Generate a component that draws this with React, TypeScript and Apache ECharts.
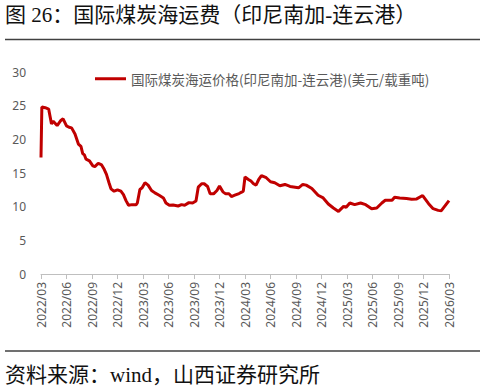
import React, { useEffect, useRef } from "react";
import * as echarts from "echarts";

const TITLE = "图 26：国际煤炭海运费（印尼南加-连云港）";
const SOURCE = "资料来源：wind，山西证券研究所";
const SERIES_NAME = "国际煤炭海运价格(印尼南加-连云港)(美元/载重吨)";

const dates: string[] = [
  "2022-03-01", "2022-03-04", "2022-03-16", "2022-03-28", "2022-04-08", "2022-04-14", "2022-04-28",
  "2022-05-11", "2022-05-19", "2022-06-01", "2022-06-10", "2022-06-19", "2022-07-01", "2022-07-13",
  "2022-07-22", "2022-07-28", "2022-08-04", "2022-08-10", "2022-08-22", "2022-09-04", "2022-09-11",
  "2022-09-23", "2022-10-05", "2022-10-14", "2022-10-22", "2022-11-01", "2022-11-08", "2022-11-19",
  "2022-12-01", "2022-12-13", "2022-12-22", "2023-01-01", "2023-01-10", "2023-01-22", "2023-02-07",
  "2023-02-11", "2023-02-20", "2023-02-28", "2023-03-08", "2023-03-19", "2023-04-01", "2023-04-13",
  "2023-04-28", "2023-05-13", "2023-05-22", "2023-06-04", "2023-06-17", "2023-07-05", "2023-07-17",
  "2023-07-28", "2023-08-13", "2023-08-26", "2023-09-08", "2023-09-16", "2023-09-28", "2023-10-07",
  "2023-10-19", "2023-10-28", "2023-11-10", "2023-11-22", "2023-12-01", "2023-12-13", "2023-12-23",
  "2024-01-05", "2024-01-13", "2024-01-25", "2024-02-10", "2024-02-19", "2024-02-25", "2024-03-01",
  "2024-03-13", "2024-03-22", "2024-04-01", "2024-04-10", "2024-04-19", "2024-04-29", "2024-05-16",
  "2024-06-01", "2024-06-16", "2024-07-04", "2024-07-22", "2024-08-10", "2024-09-10", "2024-09-25",
  "2024-10-07", "2024-10-27", "2024-11-19", "2024-12-07", "2024-12-25", "2025-01-13", "2025-02-01",
  "2025-02-19", "2025-02-28", "2025-03-11", "2025-03-28", "2025-04-19", "2025-05-07", "2025-05-28",
  "2025-06-16", "2025-07-04", "2025-07-16", "2025-08-10", "2025-08-19", "2025-09-07", "2025-10-01",
  "2025-10-19", "2025-11-07", "2025-11-28", "2025-12-19", "2026-01-05", "2026-01-23", "2026-02-04",
  "2026-03-01",
];

const values: number[] = [
  17.3, 24.8, 24.7, 24.5, 22.3, 22.7, 22.05,
  22.8, 23.05, 22.0, 21.8, 21.7, 20.8, 19.3,
  18.95, 17.9, 17.7, 17.05, 16.8, 16.05, 15.95,
  16.45, 16.2, 15.55, 14.8, 13.55, 12.65, 12.3,
  12.5, 12.3, 11.8, 10.9, 10.2, 10.3, 10.3,
  10.55, 12.55, 12.8, 13.55, 13.2, 12.4, 12.05,
  11.7, 11.3, 10.55, 10.2, 10.25, 10.1, 10.3,
  10.2, 10.6, 10.55, 10.85, 12.9, 13.4, 13.4,
  13.0, 11.9, 11.9, 12.4, 13.05, 12.2, 11.9,
  11.9, 11.5, 11.7, 11.95, 12.15, 12.3, 14.4,
  14.05, 13.8, 13.4, 13.2, 14.0, 14.6, 14.3,
  13.7, 13.55, 13.1, 13.3, 13.0, 12.8, 13.3,
  13.2, 12.7, 11.7, 11.3, 10.4, 9.8, 9.3,
  10.05, 9.9, 10.55, 10.3, 10.55, 10.3, 9.7,
  9.8, 10.55, 10.95, 10.95, 11.4, 11.3, 11.2,
  11.1, 11.15, 11.65, 10.45, 9.7, 9.45, 9.4,
  10.9,
];

const START_YEAR = 2022;
const START_MONTH = 3;
const yTicks = [0, 5, 10, 15, 20, 25, 30];

function monthOffset(d: string): number {
  const [y, m, day] = d.split("-").map(Number);
  return (y - START_YEAR) * 12 + (m - START_MONTH) + (day - 1) / 30;
}

function monthLabel(v: number): string {
  const total = Math.round(v) + (START_MONTH - 1);
  const y = START_YEAR + Math.floor(total / 12);
  const m = (total % 12) + 1;
  return `${y}/${m < 10 ? "0" + m : m}`;
}

export default function App() {
  const ref = useRef<HTMLDivElement>(null);
  useEffect(() => {
    if (!ref.current) return;
    const chart = echarts.init(ref.current, undefined, { renderer: "svg" });
    const data = dates.map((d, i) => [monthOffset(d), values[i]]);
    const xMax = monthOffset(dates[dates.length - 1]);
    chart.setOption({
      animation: false,
      backgroundColor: "#ffffff",
      textStyle: { fontFamily: "Noto Sans, Noto Sans CJK SC, sans-serif" },
      grid: { left: 41, right: 36, top: 72, bottom: 118, containLabel: false },
      legend: {
        left: 90,
        top: 67,
        itemWidth: 31,
        itemHeight: 3,
        itemGap: 4,
        icon: "rect",
        data: [SERIES_NAME],
        textStyle: {
          fontSize: 13.5,
          color: "#595959",
          fontFamily: "Noto Sans CJK SC, sans-serif",
        },
      },
      xAxis: {
        type: "value",
        min: 0,
        max: xMax,
        interval: 3,
        splitLine: { show: false },
        axisLine: { show: true, lineStyle: { color: "#BFBFBF", width: 1 } },
        axisTick: { show: true, length: 5, lineStyle: { color: "#BFBFBF" } },
        axisLabel: {
          rotate: 90,
          margin: 8,
          fontSize: 12,
          color: "#595959",
          fontFamily: "Noto Sans, sans-serif",
          formatter: (v: number) => monthLabel(v),
        },
      },
      yAxis: {
        type: "value",
        min: yTicks[0],
        max: yTicks[yTicks.length - 1],
        interval: 5,
        splitLine: { show: false },
        axisLine: { show: false },
        axisTick: { show: false },
        axisLabel: { fontSize: 12, color: "#595959", margin: 15, fontFamily: "Noto Sans, sans-serif" },
      },
      series: [
        {
          name: SERIES_NAME,
          type: "line",
          data,
          symbol: "none",
          lineStyle: { color: "#C00000", width: 3 },
          itemStyle: { color: "#C00000" },
        },
      ],
      graphic: [
        {
          type: "text",
          left: 5,
          top: 4,
          style: {
            text: TITLE,
            fontSize: 21,
            fill: "#111111",
            fontFamily: "Liberation Serif, Noto Sans CJK SC, serif",
          },
        },
        {
          type: "line",
          shape: { x1: 5, y1: 39.5, x2: 480, y2: 39.5 },
          style: { stroke: "#404040", lineWidth: 1.5 },
        },
        {
          type: "line",
          shape: { x1: 5, y1: 351, x2: 480, y2: 351 },
          style: { stroke: "#404040", lineWidth: 1.5 },
        },
        {
          type: "text",
          left: 5,
          top: 364,
          style: {
            text: SOURCE,
            fontSize: 21,
            fill: "#111111",
            fontFamily: "Liberation Serif, Noto Sans CJK SC, serif",
          },
        },
      ],
    });
    return () => chart.dispose();
  }, []);
  return (
    <div
      ref={ref}
      style={{ position: "fixed", left: 0, top: 0, width: 485, height: 392 }}
    />
  );
}
